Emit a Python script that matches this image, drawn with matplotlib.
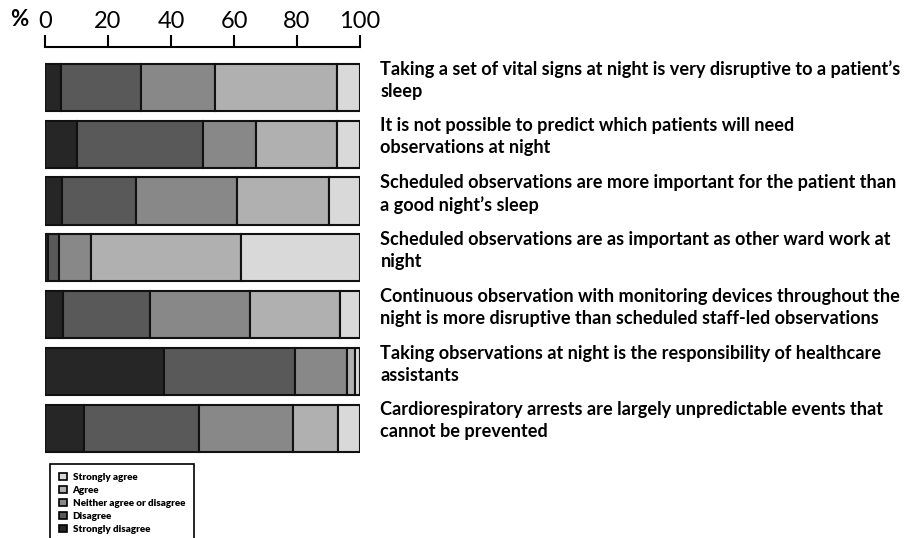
import matplotlib.pyplot as plt
from matplotlib.patches import Patch

# statements, top to bottom
statements = [
    "Taking a set of vital signs at night is very disruptive to a patient\u2019s\nsleep",
    "It is not possible to predict which patients will need\nobservations at night",
    "Scheduled observations are more important for the patient than\na good night\u2019s sleep",
    "Scheduled observations are as important as other ward work at\nnight",
    "Continuous observation with monitoring devices throughout the\nnight is more disruptive than scheduled staff-led observations",
    "Taking observations at night is the responsibility of healthcare\nassistants",
    "Cardiorespiratory arrests are largely unpredictable events that\ncannot be prevented",
]

# percentages per response
strongly_disagree = [5.0, 10.3, 5.3, 1.1, 5.6, 37.9, 12.3]
disagree = [25.4, 39.9, 23.5, 3.4, 27.6, 41.5, 36.6]
neither = [23.5, 16.9, 32.2, 10.2, 31.8, 16.6, 29.8]
agree = [38.7, 25.5, 29.2, 47.4, 28.8, 2.3, 14.3]
strongly_agree = [7.4, 7.4, 9.8, 37.9, 6.2, 1.7, 7.0]

series = [strongly_disagree, disagree, neither, agree, strongly_agree]
names = ["Strongly disagree", "Disagree", "Neither agree or disagree", "Agree", "Strongly agree"]
colors = ["#262626", "#595959", "#888888", "#b0b0b0", "#d9d9d9"]

ticks = [0, 20, 40, 60, 80, 100]

plt.rcParams['font.family'] = ['Lato', 'DejaVu Sans']

fig = plt.figure(figsize=(9.14, 5.38), dpi=100)
ax = fig.add_axes([45 / 914, 1 - 456.7 / 538, 315 / 914, (456.7 - 47) / 538])

y = list(range(len(statements)))
left = [0] * len(statements)
for vals, name, col in zip(series, names, colors):
    ax.barh(y, vals, left=left, height=0.83, color=col, edgecolor='#111111',
            linewidth=1.5, label=name)
    left = [l + v for l, v in zip(left, vals)]

ax.set_xlim(0, 100)
ax.set_ylim(6.5, -0.71)
ax.xaxis.tick_top()
ax.set_xticks(ticks)
ax.set_xticklabels([str(t) for t in ticks], fontsize=17)
ax.tick_params(axis='x', direction='out', length=9, width=1.5, pad=2)
ax.set_yticks([])
for s in ['bottom', 'left', 'right']:
    ax.spines[s].set_visible(False)
ax.spines['top'].set_linewidth(1.5)

fig.text(19 / 914, 1 - 20 / 538, "%", fontsize=16, fontweight='bold', ha='center', va='center')

for i, txt in enumerate(statements):
    ax.text(106.5, i - 0.13, txt, fontsize=13.1, fontweight='bold', va='center',
            ha='left', linespacing=1.35, clip_on=False)

handles = [Patch(facecolor=c, edgecolor='black', linewidth=1.2) for c in colors][::-1]
leg = fig.legend(handles, names[::-1], loc='upper left',
                 bbox_to_anchor=(45 / 914, 1 - 459 / 538), prop={'size': 7.1, 'weight': 'heavy'},
                 handlelength=0.8, handleheight=0.8, handletextpad=0.6,
                 labelspacing=0.38, borderpad=0.9, fancybox=False, framealpha=1)
leg.get_frame().set_edgecolor('black')
leg.get_frame().set_linewidth(1.2)

fig.savefig("out.png", dpi=100)
